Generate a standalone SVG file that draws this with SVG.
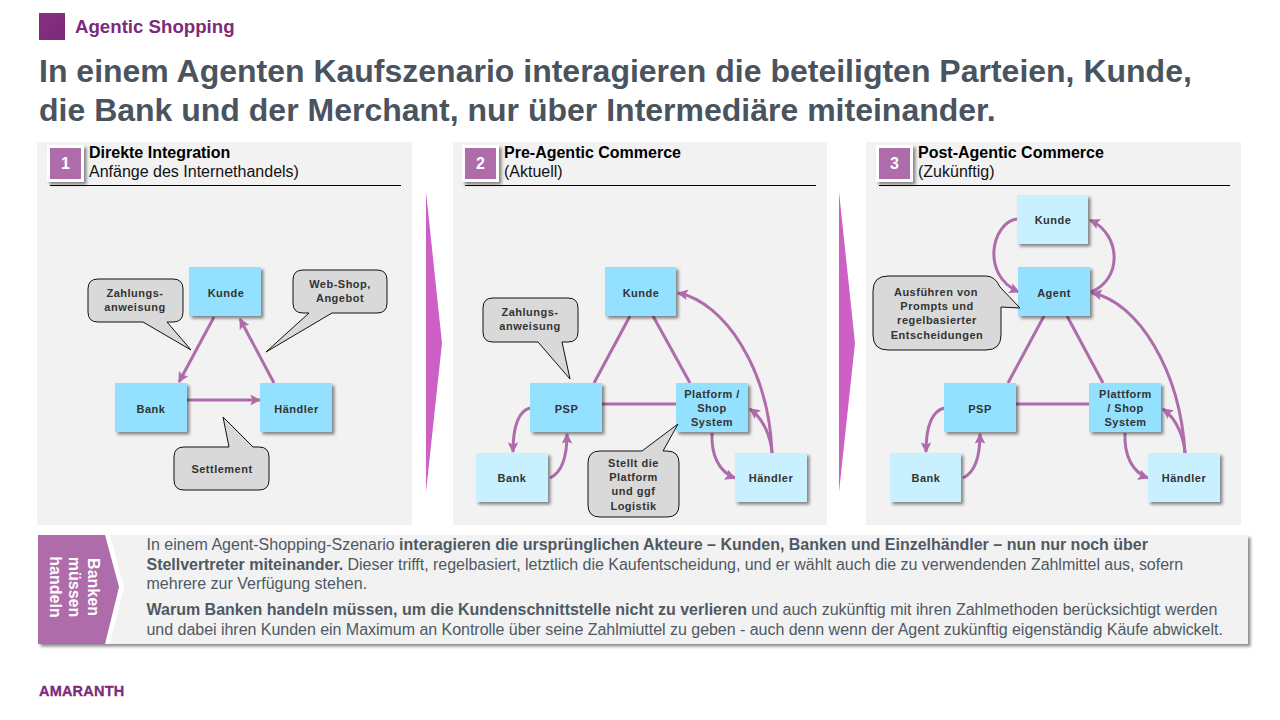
<svg xmlns="http://www.w3.org/2000/svg" width="1280" height="720" viewBox="0 0 1280 720">
<defs>
<filter id="sh" x="-20%" y="-20%" width="150%" height="150%"><feDropShadow dx="2.5" dy="2.5" stdDeviation="1.5" flood-color="#000" flood-opacity="0.45"/></filter>
<marker id="ah" viewBox="0 0 10 10" refX="9" refY="5" markerWidth="3.6" markerHeight="3.6" orient="auto-start-reverse" markerUnits="strokeWidth"><path d="M0 0L10 5L0 10L2 5Z" fill="#ae6cab"/></marker>
<linearGradient id="sq" x1="0" y1="0" x2="1" y2="1"><stop offset="0" stop-color="#8a2f82"/><stop offset="1" stop-color="#7a2a78"/></linearGradient>
</defs>
<style>
text{font-family:"Liberation Sans",Arial,sans-serif}
.panel{fill:#f2f2f2}
.n1{fill:#93e1ff;filter:url(#sh)}
.n2{fill:#c9f0ff;filter:url(#sh)}
.nt{font-size:11px;font-weight:bold;fill:#333;text-anchor:middle;letter-spacing:.5px}
.call{fill:#d9d9d9;stroke:#111;stroke-width:1}
.c{fill:none;stroke:#ae6cab;stroke-width:3}
.a{marker-end:url(#ah)}
.badge{fill:#fff;filter:url(#sh)}
.bi{fill:#ae6cab}
.bt{font-size:16px;font-weight:bold;fill:#fff;text-anchor:middle}
.h1{font-size:16px;font-weight:bold;fill:#000}
.h2{font-size:16px;fill:#111}
.rule{stroke:#000;stroke-width:1}
.tt{font-size:32px;font-weight:bold;fill:#4a545e}
.bd{font-size:16px;fill:#4f5963}
.tight{letter-spacing:-.03px}
.chev{fill:#cc60c4}
</style>
<g id="header">
<rect x="39" y="13" width="26" height="27" fill="url(#sq)"/>
<text x="75" y="33" font-size="18.670" font-weight="bold" fill="#7d2a7b">Agentic Shopping</text>
<text class="tt" x="39" y="82">In einem Agenten Kaufszenario interagieren die beteiligten Parteien, Kunde,</text>
<text class="tt" x="39" y="121">die Bank und der Merchant, nur über Intermediäre miteinander.</text>
</g>
<g id="panels">
<rect class="panel" x="37" y="142" width="375" height="383"/>
<rect class="panel" x="453" y="142" width="374" height="383"/>
<rect class="panel" x="866" y="142" width="375" height="383"/>
<path class="chev" d="M426 192L442 343L426 492Z"/>
<path class="chev" d="M839 192L855 343L839 492Z"/>
</g>
<g id="panel-head-1">
<rect class="badge" x="47" y="145" width="37" height="37"/><rect class="bi" x="50" y="148" width="31" height="31"/>
<text class="bt" x="65.500" y="169">1</text>
<text class="h1" x="89" y="158">Direkte Integration</text><text class="h2" x="89" y="177">Anfänge des Internethandels)</text>
<line class="rule" x1="50" y1="185.500" x2="401" y2="185.500"/>
</g>
<g id="panel-head-2">
<rect class="badge" x="462" y="145" width="37" height="37"/><rect class="bi" x="465" y="148" width="31" height="31"/>
<text class="bt" x="480.500" y="169">2</text>
<text class="h1" x="504" y="158">Pre-Agentic Commerce</text><text class="h2" x="504" y="177">(Aktuell)</text>
<line class="rule" x1="465" y1="185.500" x2="816" y2="185.500"/>
</g>
<g id="panel-head-3">
<rect class="badge" x="876" y="145" width="37" height="37"/><rect class="bi" x="879" y="148" width="31" height="31"/>
<text class="bt" x="894.500" y="169">3</text>
<text class="h1" x="918" y="158">Post-Agentic Commerce</text><text class="h2" x="918" y="177">(Zukünftig)</text>
<line class="rule" x1="879" y1="185.500" x2="1230" y2="185.500"/>
</g>
<g id="connectors">
<path class="c a" d="M214 317L179 382"/>
<path class="c a" d="M274 383L240 319"/>
<path class="c a" d="M187 400H260"/>
<path class="c" d="M630 316L594 383"/>
<path class="c" d="M653 316L690 383"/>
<path class="c" d="M602 404H676"/>
<path class="c a" d="M530 408C519 411 513 425 513 452"/>
<path class="c a" d="M550 478C561 473 567 458 567 434"/>
<path class="c a" d="M712 433C711 455 719 472 735 478"/>
<path class="c a" d="M772 453C771 438 764 419 750 409"/>
<path class="c a" d="M772 453C769 370 725 302 678 293"/>
<path class="c" d="M1044 316L1008 383"/>
<path class="c" d="M1067 316L1103 383"/>
<path class="c" d="M1016 404H1089"/>
<path class="c a" d="M1017 219C992 222 980 275 1019 292"/>
<path class="c a" d="M1091 292C1122 280 1122 235 1090 220"/>
<path class="c a" d="M1185 453C1180 370 1138 302 1092 293"/>
<path class="c a" d="M1185 453C1184 438 1177 419 1163 409"/>
<path class="c a" d="M944 408C933 411 926 425 926 452"/>
<path class="c a" d="M963 478C974 473 980 458 980 434"/>
<path class="c a" d="M1125 433C1124 455 1132 472 1148 478"/>
</g>
<g id="p1-kunde"><rect class="n1" x="189" y="267" width="72" height="49"/><text class="nt" x="226" y="297">Kunde</text></g>
<g id="p1-bank"><rect class="n1" x="115" y="383" width="72" height="49"/><text class="nt" x="151" y="413">Bank</text></g>
<g id="p1-haendler"><rect class="n1" x="260" y="383" width="72" height="49"/><text class="nt" x="296.500" y="413">Händler</text></g>
<g id="p1-call-zahlung"><path class="call" d="M98 279H173Q183 279 183 289V312Q183 322 173 322H167L191 350L143 322H98Q88 322 88 312V289Q88 279 98 279Z"/><text class="nt" x="135" y="297">Zahlungs-</text><text class="nt" x="135" y="311">anweisung</text></g>
<g id="p1-call-web"><path class="call" d="M303 270H377Q387 270 387 280V303Q387 313 377 313H332L266 352L309 313H303Q293 313 293 303V280Q293 270 303 270Z"/><text class="nt" x="340" y="288">Web-Shop,</text><text class="nt" x="340" y="302">Angebot</text></g>
<g id="p1-call-settle"><path class="call" d="M184 447H229L223 417L253 447H259Q269 447 269 457V480Q269 490 259 490H184Q174 490 174 480V457Q174 447 184 447Z"/><text class="nt" x="222" y="473">Settlement</text></g>
<g id="p2-kunde"><rect class="n1" x="605" y="267" width="71" height="49"/><text class="nt" x="641" y="297">Kunde</text></g>
<g id="p2-psp"><rect class="n1" x="530" y="383" width="72" height="49"/><text class="nt" x="566.500" y="413">PSP</text></g>
<g id="p2-platform"><rect class="n1" x="676" y="383" width="72" height="49"/><text class="nt" x="712" y="398">Platform /</text><text class="nt" x="712" y="412">Shop</text><text class="nt" x="712" y="426">System</text></g>
<g id="p2-bank"><rect class="n2" x="476" y="453" width="72" height="49"/><text class="nt" x="512" y="482">Bank</text></g>
<g id="p2-haendler"><rect class="n2" x="735" y="453" width="72" height="49"/><text class="nt" x="771" y="482">Händler</text></g>
<g id="p2-call-zahlung"><path class="call" d="M493 298H568Q578 298 578 308V332Q578 342 568 342H562L570 379L538 342H493Q483 342 483 332V308Q483 298 493 298Z"/><text class="nt" x="530" y="316">Zahlungs-</text><text class="nt" x="530" y="330">anweisung</text></g>
<g id="p2-call-stellt"><path class="call" d="M600 451H642L678 424L663 451H667Q679 451 679 463V505Q679 517 667 517H600Q588 517 588 505V463Q588 451 600 451Z"/><text class="nt" x="633.500" y="467">Stellt die</text><text class="nt" x="633.500" y="481">Platform</text><text class="nt" x="633.500" y="495">und ggf</text><text class="nt" x="633.500" y="510">Logistik</text></g>
<g id="p3-kunde"><rect class="n2" x="1017" y="195" width="71" height="49"/><text class="nt" x="1053" y="224">Kunde</text></g>
<g id="p3-agent"><rect class="n1" x="1018" y="267" width="72" height="49"/><text class="nt" x="1054" y="297">Agent</text></g>
<g id="p3-psp"><rect class="n1" x="944" y="383" width="72" height="49"/><text class="nt" x="980" y="413">PSP</text></g>
<g id="p3-plattform"><rect class="n1" x="1089" y="383" width="72" height="49"/><text class="nt" x="1125.500" y="398">Plattform</text><text class="nt" x="1125.500" y="412">/ Shop</text><text class="nt" x="1125.500" y="426">System</text></g>
<g id="p3-bank"><rect class="n2" x="890" y="453" width="71" height="49"/><text class="nt" x="926" y="482">Bank</text></g>
<g id="p3-haendler"><rect class="n2" x="1148" y="453" width="72" height="49"/><text class="nt" x="1184" y="482">Händler</text></g>
<g id="p3-call-ausf"><path class="call" d="M888 276H986Q995 276 1000 287L1020 308L1001 307V335Q1001 350 986 350H888Q873 350 873 335V291Q873 276 888 276Z"/><text class="nt" x="936" y="296">Ausführen von</text><text class="nt" x="937" y="310">Prompts und</text><text class="nt" x="937" y="324">regelbasierter</text><text class="nt" x="937" y="339">Entscheidungen</text></g>
<g id="summary">
<rect fill="#f2f2f2" filter="url(#sh)" x="38" y="535" width="1210" height="109"/>
<path fill="#fff" d="M105 535H110L124 587L110 644H105L119 587Z"/>
<path fill="#ae6cab" d="M38 535H105L119 587L105 644H38Z"/>
<g font-size="16" font-weight="bold" fill="#fff" text-anchor="middle">
<text transform="translate(88 587) rotate(90)">Banken</text>
<text transform="translate(69 587) rotate(90)">müssen</text>
<text transform="translate(50 587) rotate(90)">handeln</text>
</g>
<text class="bd" x="146.500" y="550">In einem Agent-Shopping-Szenario <tspan font-weight="bold">interagieren die ursprünglichen Akteure – Kunden, Banken und Einzelhändler – nun nur noch über</tspan></text>
<text class="bd tight" x="146.500" y="570"><tspan font-weight="bold">Stellvertreter miteinander.</tspan> Dieser trifft, regelbasiert, letztlich die Kaufentscheidung, und er wählt auch die zu verwendenden Zahlmittel aus, sofern</text>
<text class="bd" x="146.500" y="589">mehrere zur Verfügung stehen.</text>
<text class="bd" x="146.500" y="615"><tspan font-weight="bold">Warum Banken handeln müssen, um die Kundenschnittstelle nicht zu verlieren</tspan> und auch zukünftig mit ihren Zahlmethoden berücksichtigt werden</text>
<text class="bd tight" x="146.500" y="635">und dabei ihren Kunden ein Maximum an Kontrolle über seine Zahlmiuttel zu geben - auch denn wenn der Agent zukünftig eigenständig Käufe abwickelt.</text>
</g>
<text id="logo" x="39" y="696" font-size="14.500" font-weight="bold" fill="#7d2a7b" stroke="#7d2a7b" stroke-width=".3" letter-spacing=".2">AMARANTH</text>
</svg>
